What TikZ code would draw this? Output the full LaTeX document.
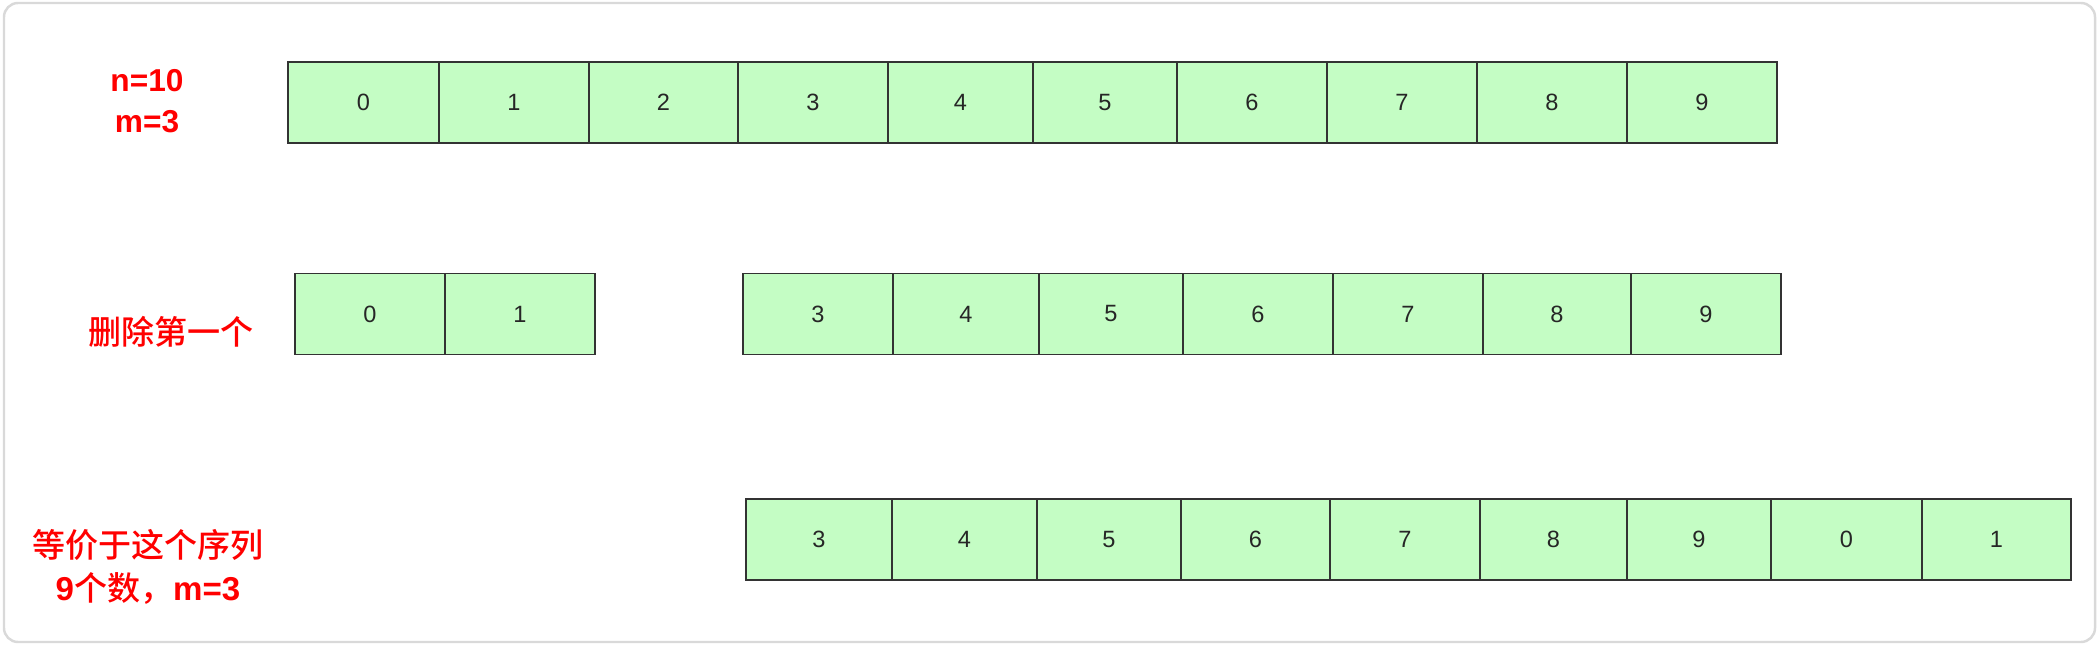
\documentclass[tikz,border=0pt]{standalone}
\usepackage{fontspec}
\setmainfont{Liberation Sans}
\newfontfamily\cjk{Noto Sans CJK SC}[BoldFont={* Medium}]
\usetikzlibrary{positioning}
\definecolor{cellgreen}{RGB}{196,253,196}
\definecolor{cellline}{RGB}{51,51,51}

\begin{document}
\begin{tikzpicture}[x=0.01cm,y=-0.01cm]
  \tikzstyle{cell}=[rectangle,draw=cellline,fill=cellgreen,line width=0.4pt,inner sep=0pt,minimum height=0.81cm,text=black!85,font=\fontsize{6.7}{8}\selectfont]
  \tikzstyle{note}=[text=red,align=center,inner sep=0pt]
  \useasboundingbox (0,0) rectangle (2100,646);
  \draw[draw=black!15,line width=0.7pt,rounded corners=0.14cm] (4,3) rectangle (2095,642);

  % n=10, all of them
  \foreach \v/\xl/\xr in {0/288/439,1/439/589,2/589/738,3/738/888,4/888/1033,5/1033/1177,6/1177/1327,7/1327/1477,8/1477/1627,9/1627/1777}
    \node[cell,minimum width={(\xr-\xl)*0.01cm}] (a\v) at ({(\xl+\xr)/2},102.5) {\v};
  % the third one is gone
  \foreach \v/\xl/\xr in {0/295/445,1/445/595,3/743/893,4/893/1039,5/1039/1183,6/1183/1333,7/1333/1483,8/1483/1631,9/1631/1781}
    \node[cell,minimum width={(\xr-\xl)*0.01cm}] (b\v) at ({(\xl+\xr)/2},314) {\v};
  % start again from 3
  \foreach \v/\xl/\xr in {3/746/892,4/892/1037,5/1037/1181,6/1181/1330,7/1330/1480,8/1480/1627,9/1627/1771,0/1771/1922,1/1922/2071}
    \node[cell,minimum width={(\xr-\xl)*0.01cm}] (c\v) at ({(\xl+\xr)/2},539.5) {\v};

  \node[note,font=\bfseries\fontsize{9}{11.7}\selectfont] (nm) at (147,101) {n=10\\m=3};
  \node[note,font=\cjk\bfseries\fontsize{9.4}{12}\selectfont] (del) at (171,332) {删除第一个};
  \node[note,font=\bfseries\fontsize{9.4}{12}\selectfont] (same) at (148,567) {{\cjk 等价于这个序列}\\9{\cjk 个数，}m=3};
\end{tikzpicture}
\end{document}
